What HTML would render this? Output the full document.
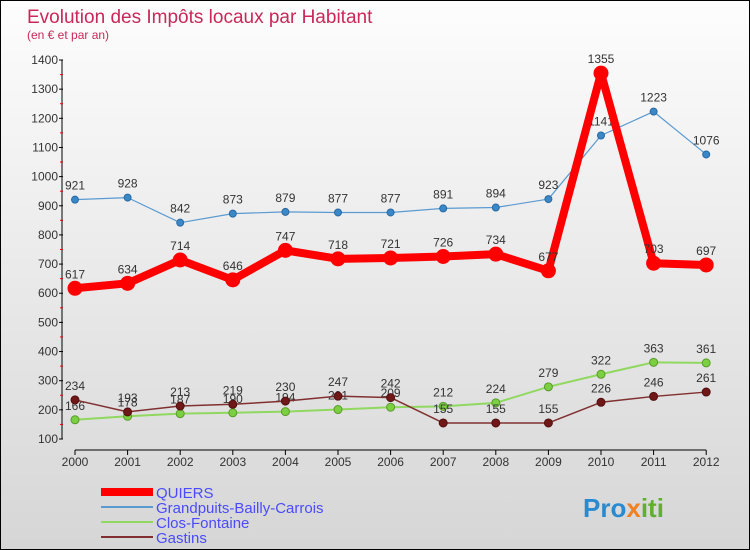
<!DOCTYPE html>
<html><head><meta charset="utf-8"><style>
body{margin:0;}
#c{position:relative;width:748px;height:548px;border:1px solid #000;background:linear-gradient(#fdfdfd,#d6d6d6);font-family:"Liberation Sans",sans-serif;overflow:hidden}
</style></head><body>
<div id="c">
<svg id="s" width="748" height="548"></svg>
</div>
<script>
const years=[2000,2001,2002,2003,2004,2005,2006,2007,2008,2009,2010,2011,2012];
const quiers=[617,634,714,646,747,718,721,726,734,677,1355,703,697];
const grand=[921,928,842,873,879,877,877,891,894,923,1141,1223,1076];
const clos=[166,178,187,190,194,201,209,212,224,279,322,363,361];
const gastins=[234,193,213,219,230,247,242,155,155,155,226,246,261];
const yTicks=[100,200,300,400,500,600,700,800,900,1000,1100,1200,1300,1400];
const NS="http://www.w3.org/2000/svg";
const s=document.getElementById('s');
function X(i){return 74+i*52.6;}
function Y(v){return 438-(v-100)*379/1300;}
function el(t,a,p){const e=document.createElementNS(NS,t);for(const k in a)e.setAttribute(k,a[k]);(p||s).appendChild(e);return e;}
let t=el('text',{x:26,y:22,'font-size':19,fill:'#c8285a'});t.textContent='Evolution des Impôts locaux par Habitant';

t=el('text',{x:26,y:38,'font-size':12,fill:'#c8285a'});t.textContent='(en € et par an)';

let ax=el('g',{});
el('line',{x1:61,y1:Y(1400),x2:61,y2:Y(100),stroke:'#000'},ax);
yTicks.forEach((v,i)=>{el('line',{x1:58,x2:62,y1:Y(v),y2:Y(v),stroke:'#000'},ax);
 if(i<yTicks.length-1)el('line',{x1:59,x2:62,y1:Y(v+50),y2:Y(v+50),stroke:'#e00'},ax);
 const tt=el('text',{x:57,y:Y(v)+4,'font-size':12,fill:'#333','text-anchor':'end'},ax);tt.textContent=v;});
let xa=el('g',{});
el('line',{x1:X(0),x2:X(12),y1:449,y2:449,stroke:'#000'},xa);
years.forEach((y,i)=>{el('line',{x1:X(i),x2:X(i),y1:449,y2:454,stroke:'#000'},xa);
 const tt=el('text',{x:X(i),y:465,'font-size':12,fill:'#333','text-anchor':'middle'},xa);tt.textContent=y;});
function series(d,color,w,r,name,dot,stroke){
 const g=el('g',{});
 el('polyline',{points:d.map((v,i)=>X(i)+','+Y(v)).join(' '),fill:'none',stroke:color,'stroke-width':w,'stroke-linejoin':'round'},g);
 d.forEach((v,i)=>{const c=el('circle',{cx:X(i),cy:Y(v),r:r,fill:dot,stroke:stroke,'stroke-width':1},g);
  const tt=el('text',{x:X(i),y:Y(v)-10,'font-size':12,fill:'#333','text-anchor':'middle'},g);tt.textContent=v;});
}
series(clos,'#90d860',2,4,'series-clos-fontaine','#7ad040','#5a9a2a');
series(gastins,'#803030',1.5,4,'series-gastins','#701818','#501010');
series(grand,'#5a9ad0',1.2,3.5,'series-grandpuits','#3a88c8','#2a68a0');
series(quiers,'#f00',8,7,'series-quiers','#f00','#f00');
const leg=[['QUIERS','#f00',8],['Grandpuits-Bailly-Carrois','#5a9ad0',2],['Clos-Fontaine','#90d860',2],['Gastins','#803030',2]];
leg.forEach((l,i)=>{const g=el('g',{});
 el('line',{x1:100,x2:152,y1:491+i*15,y2:491+i*15,stroke:l[1],'stroke-width':l[2]},g);
 const tt=el('text',{x:155,y:497+i*15,'font-size':15,fill:'#4a4aff'},g);tt.textContent=l[0];});
const lg=el('text',{x:582,y:516,'font-size':26,'font-weight':'bold',fill:'#2a8ad0'});

lg.innerHTML='Pro<tspan fill="#f08020">x</tspan><tspan fill="#60b030">iti</tspan>';
</script>
</body></html>
